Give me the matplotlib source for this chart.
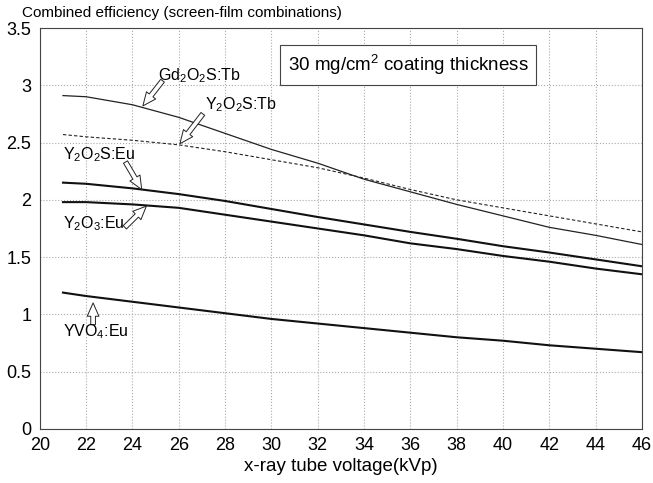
import numpy as np
import matplotlib
matplotlib.use("Agg")
import matplotlib.pyplot as plt

plt.rcParams['font.family'] = ['Liberation Sans', 'DejaVu Sans']
plt.rcParams['mathtext.fontset'] = 'custom'
plt.rcParams['mathtext.rm'] = 'Liberation Sans'

kvp = [21, 22, 24, 26, 28, 30, 32, 34, 36, 38, 40, 42, 44, 46]
gd2o2s_tb = [2.91, 2.90, 2.83, 2.72, 2.58, 2.44, 2.32, 2.18, 2.07, 1.96, 1.86, 1.76, 1.69, 1.61]
y2o2s_tb = [2.57, 2.55, 2.52, 2.48, 2.42, 2.35, 2.28, 2.19, 2.09, 2.00, 1.93, 1.86, 1.79, 1.72]
y2o2s_eu = [2.15, 2.14, 2.10, 2.05, 1.99, 1.92, 1.85, 1.785, 1.72, 1.66, 1.595, 1.54, 1.48, 1.42]
y2o3_eu = [1.98, 1.98, 1.96, 1.93, 1.87, 1.81, 1.75, 1.69, 1.62, 1.57, 1.51, 1.46, 1.40, 1.35]
yvo4_eu = [1.19, 1.16, 1.11, 1.06, 1.01, 0.96, 0.92, 0.88, 0.84, 0.80, 0.77, 0.73, 0.70, 0.67]

xticks = np.arange(20, 47, 2)
yticks = np.arange(0, 3.51, 0.5)
ytick_labels = ['0', '0.5', '1', '1.5', '2', '2.5', '3', '3.5']

# label text, text anchor (kVp, value), arrow tail, arrow tip
labels = [
    ('Gd$_2$O$_2$S:Tb', (25.1, 3.045), (25.3, 3.04), (24.45, 2.82)),
    ('Y$_2$O$_2$S:Tb', (27.13, 2.79), (27.04, 2.75), (26.05, 2.49)),
    ('Y$_2$O$_2$S:Eu', (21.0, 2.35), (23.7, 2.33), (24.4, 2.09)),
    ('Y$_2$O$_3$:Eu', (21.0, 1.75), (23.67, 1.76), (24.6, 1.945)),
    ('YVO$_4$:Eu', (21.0, 0.81), (22.3, 0.91), (22.3, 1.10)),
]

fig = plt.figure(figsize=(6.53, 4.83), dpi=100)
ax = fig.add_axes([0.061, 0.112, 0.922, 0.830])

ax.plot(kvp, gd2o2s_tb, color='#222222', lw=0.9)
ax.plot(kvp, y2o2s_tb, color='#222222', lw=0.8, linestyle=(0, (3, 2)))
ax.plot(kvp, y2o2s_eu, color='#111111', lw=1.5)
ax.plot(kvp, y2o3_eu, color='#111111', lw=1.5)
ax.plot(kvp, yvo4_eu, color='#111111', lw=1.5)

ax.set_xlim(20, 46)
ax.set_ylim(0, 3.5)
ax.set_xticks(xticks)
ax.set_yticks(yticks)
ax.set_yticklabels(ytick_labels)
ax.tick_params(direction='in', length=0, labelsize=13, pad=6)
ax.grid(True, color='#aaaaaa', linestyle=':', linewidth=0.8)
for sp in ax.spines.values():
    sp.set_color('#444444')
    sp.set_linewidth(0.8)

ax.set_xlabel('x-ray tube voltage(kVp)', fontsize=13.5, labelpad=3)
fig.text(0.034, 0.974, 'Combined efficiency (screen-film combinations)',
         fontsize=11, ha='left', va='center')

ax.text(35.9, 3.18, '30 mg/cm$^2$ coating thickness', fontsize=13.5,
        ha='center', va='center',
        bbox=dict(boxstyle='square,pad=0.4', fc='white', ec='#444444', lw=0.8))

arrow = dict(arrowstyle='simple,head_width=0.7,head_length=0.8,tail_width=0.28',
             fc='white', ec='#222222', lw=0.7, mutation_scale=12,
             shrinkA=0, shrinkB=0)
for name, txt_pos, tail, tip in labels:
    ax.annotate('', xy=tip, xytext=tail, arrowprops=arrow)
    ax.text(txt_pos[0], txt_pos[1], name, fontsize=11.5, ha='left',
            va='baseline')

fig.savefig('out.png', dpi=100)
